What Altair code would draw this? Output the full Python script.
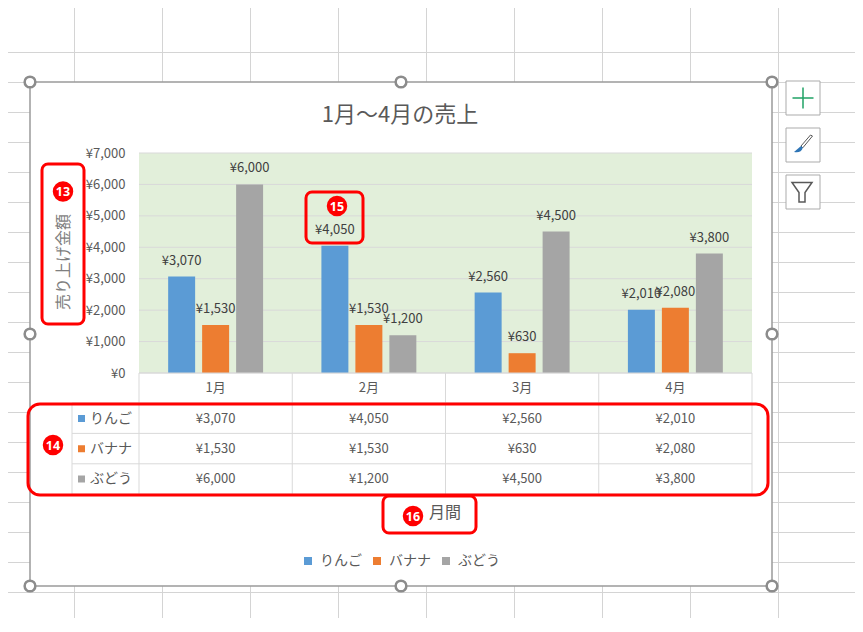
import altair as alt
import pandas as pd

# ---- data ----
months = ["1月", "2月", "3月", "4月"]
series = ["りんご", "バナナ", "ぶどう"]
apple = [3070, 4050, 2560, 2010]
banana = [1530, 1530, 630, 2080]
grape = [6000, 1200, 4500, 3800]
colors = ["#5b9bd5", "#ed7d31", "#a5a5a5"]
y_ticks = [0, 1000, 2000, 3000, 4000, 5000, 6000, 7000]

rows = []
for s, vals in zip(series, [apple, banana, grape]):
    for m, v in zip(months, vals):
        rows.append({"month": m, "series": s, "value": v})
df = pd.DataFrame(rows)

FONT = "Noto Sans CJK JP"
W, H = 613, 220
one = pd.DataFrame({"k": [0]})
YEN = "'¥' + format(datum.value, ',')"

x_scale = alt.Scale(domain=months, paddingInner=0, paddingOuter=0)
off_scale = alt.Scale(domain=series, paddingInner=0.206, paddingOuter=0.858)
y_scale = alt.Scale(domain=[0, 7000], nice=False)
color_scale = alt.Scale(domain=series, range=colors)
row_scale = alt.Scale(type="point", domain=series, range=[265.5, 326], padding=0)


def vrect(x1, x2, y1, y2, **kw):
    return alt.Chart(one).mark_rect(**kw).encode(
        x=alt.value(x1), x2=alt.value(x2), y=alt.value(y1), y2=alt.value(y2))


def hrule(x1, x2, y, color="#d9d9d9"):
    return alt.Chart(one).mark_rule(color=color, strokeWidth=1).encode(
        x=alt.value(x1), x2=alt.value(x2), y=alt.value(y))


def vrule(x, y1, y2, color="#d9d9d9"):
    return alt.Chart(one).mark_rule(color=color, strokeWidth=1).encode(
        x=alt.value(x), y=alt.value(y1), y2=alt.value(y2))


# ---- spreadsheet background grid ----
sheet_v = alt.Chart(alt.sequence(0, 9, as_="i")).transform_calculate(
    px="-64.5 + 88*datum.i").mark_rule(color="#d4d4d4", strokeWidth=1).encode(
    x=alt.X("px:Q", scale=None, axis=None), y=alt.value(-145), y2=alt.value(465))
sheet_h = alt.Chart(alt.sequence(0, 20, as_="i")).transform_calculate(
    py="-100.5 + 30*datum.i").mark_rule(color="#d4d4d4", strokeWidth=1).encode(
    y=alt.Y("py:Q", scale=None, axis=None), x=alt.value(-131), x2=alt.value(716))

# ---- chart frame & plot background ----
frame = vrect(-109, 633, -71, 433, fill="white", stroke="#9a9a9a", strokeWidth=1.5)
plot_bg = vrect(0, W, 0, H, fill="#e2efda")

ygrid = alt.Chart(pd.DataFrame({"v": y_ticks})).mark_rule(
    color="#d9d9d9", strokeWidth=1).encode(
    y=alt.Y("v:Q", scale=y_scale, axis=None), x=alt.value(0), x2=alt.value(W))

bars = alt.Chart(df).mark_bar().encode(
    x=alt.X("month:N", scale=x_scale, sort=months, axis=None),
    xOffset=alt.XOffset("series:N", scale=off_scale, sort=series),
    y=alt.Y("value:Q", scale=y_scale,
            axis=alt.Axis(values=y_ticks, labelExpr=YEN, grid=False,
                          domain=False, ticks=False, labelPadding=14,
                          labelFontSize=13, labelColor="#595959", title=None,
                          zindex=1)),
    color=alt.Color("series:N", scale=color_scale, sort=series,
                    legend=alt.Legend(orient="none", legendX=162, legendY=401,
                                      direction="horizontal", title=None,
                                      symbolType="square", symbolSize=64,
                                      symbolStrokeWidth=0, labelFontSize=14,
                                      labelColor="#595959", labelOffset=5,
                                      columnPadding=8, padding=0)),
)

bar_labels = alt.Chart(df).transform_calculate(label=YEN).mark_text(
    dy=-16, fontSize=13, color="#404040").encode(
    x=alt.X("month:N", scale=x_scale, sort=months, axis=None),
    xOffset=alt.XOffset("series:N", scale=off_scale, sort=series),
    y=alt.Y("value:Q", scale=y_scale, axis=None),
    text="label:N")

# ---- data table ----
tbl_cols = alt.Chart(pd.DataFrame({"month": months})).mark_rule(
    color="#d9d9d9", strokeWidth=1).encode(
    x=alt.X("month:N", scale=x_scale, sort=months, bandPosition=0, axis=None),
    y=alt.value(220), y2=alt.value(341))
tbl_rows = alt.Chart(alt.sequence(0, 4, as_="i")).transform_calculate(
    py="250 + 30.4*datum.i").mark_rule(color="#d9d9d9", strokeWidth=1).encode(
    y=alt.Y("py:Q", scale=None, axis=None), x=alt.value(-67), x2=alt.value(W))

month_labels = alt.Chart(pd.DataFrame({"month": months})).mark_text(
    fontSize=13, color="#595959").encode(
    x=alt.X("month:N", scale=x_scale, sort=months, axis=None),
    y=alt.value(235), text="month:N")

tbl_values = alt.Chart(df).transform_calculate(label=YEN).mark_text(
    fontSize=13, color="#595959").encode(
    x=alt.X("month:N", scale=x_scale, sort=months, axis=None),
    y=alt.Y("series:N", scale=row_scale, axis=None),
    text="label:N")
tbl_names = alt.Chart(pd.DataFrame({"series": series})).mark_text(
    align="left", fontSize=14, color="#595959").encode(
    x=alt.value(-49), y=alt.Y("series:N", scale=row_scale, axis=None),
    text="series:N")
tbl_keys = alt.Chart(pd.DataFrame({"series": series})).mark_point(
    shape="square", filled=True, size=49, opacity=1).encode(
    x=alt.value(-57.5), y=alt.Y("series:N", scale=row_scale, axis=None),
    color=alt.Color("series:N", scale=color_scale, legend=None))

# ---- titles ----
title = alt.Chart(one).mark_text(text="1月～4月の売上", fontSize=22,
                                 color="#595959").encode(
    x=alt.value(261), y=alt.value(-38))
ytitle = alt.Chart(one).mark_text(text="売り上げ金額", fontSize=16, angle=270,
                                  color="#7f7f7f").encode(
    x=alt.value(-75), y=alt.value(109))
xtitle = alt.Chart(one).mark_text(text="月間", fontSize=16,
                                  color="#595959").encode(
    x=alt.value(306), y=alt.value(360))

# ---- red annotations ----
def box(x1, x2, y1, y2, r):
    return vrect(x1, x2, y1, y2, fillOpacity=0, stroke="#ff0000",
                 strokeWidth=3, cornerRadius=r)


def badge(x, y, t):
    c = alt.Chart(one).mark_point(shape="circle", filled=True, size=420,
                                  color="#ff0000", opacity=1).encode(
        x=alt.value(x), y=alt.value(y))
    tx = alt.Chart(one).mark_text(text=t, fontSize=12.5, fontWeight="bold",
                                  color="white", font="Noto Sans").encode(
        x=alt.value(x), y=alt.value(y + 0.5))
    return [c, tx]


annos = [
    box(-97, -55, 11, 171, 6),
    box(-111, 629, 251, 342, 12),
    box(167, 224, 39, 90, 6),
    box(244, 337, 343, 380, 6),
] + badge(-76, 38.5, "13") + badge(-86, 292, "14") + badge(198, 53, "15") + badge(274, 363, "16")

# ---- selection handles & side buttons ----
handles = alt.Chart(alt.sequence(0, 9, as_="i")).transform_filter(
    "datum.i != 4").transform_calculate(
    hx="-109 + 371*(datum.i % 3)", hy="-71 + 252*floor(datum.i/3)").mark_point(
    shape="circle", size=115, filled=True, fill="white", stroke="#8c8c8c",
    strokeWidth=2.5, opacity=1).encode(
    x=alt.X("hx:Q", scale=None, axis=None), y=alt.Y("hy:Q", scale=None, axis=None))

buttons = [vrect(647, 681, -72 + 47 * k, -38 + 47 * k, fill="white",
                 stroke="#ababab", strokeWidth=1) for k in range(3)]

plus = alt.Chart(one).mark_point(shape="M-1,0L1,0M0,-1L0,1", size=441,
                                 filled=False, stroke="#21a366",
                                 strokeWidth=1.5, opacity=1).encode(
    x=alt.value(664), y=alt.value(-55))
brush_handle = alt.Chart(one).mark_point(
    shape="M0.85,-0.8L0.65,-0.9L-0.3,0.2L-0.12,0.38Z", size=400, filled=True,
    fill="white", stroke="#595959", strokeWidth=1, opacity=1).encode(
    x=alt.value(665), y=alt.value(-9))
brush_tip = alt.Chart(one).mark_point(
    shape="M-0.3,0.2L-0.12,0.38Q-0.3,0.95-1,0.8Q-0.65,0.5-0.3,0.2Z", size=400,
    filled=True, fill="#2e75b6", strokeWidth=0, opacity=1).encode(
    x=alt.value(665), y=alt.value(-9))
funnel = alt.Chart(one).mark_point(
    shape="M-1,-0.95L1,-0.95L0.3,0.05L0.3,1L-0.3,1L-0.3,0.05Z", size=400,
    filled=True, fill="white", stroke="#595959", strokeWidth=1.5,
    opacity=1).encode(x=alt.value(663), y=alt.value(39))

layers = [sheet_v, sheet_h, frame, plot_bg, ygrid, bars, bar_labels,
          tbl_cols, tbl_rows, hrule(0, W, 220), vrule(W, 220, 341),
          vrule(-67, 250, 341), month_labels, tbl_values, tbl_names, tbl_keys,
          title, ytitle, xtitle] + annos + [handles] + buttons + [
          plus, brush_handle, brush_tip, funnel]

chart = alt.layer(*layers).resolve_scale(y="independent").properties(
    width=W, height=H,
    padding={"left": 131, "top": 145, "right": 103, "bottom": 245},
    autosize=alt.AutoSizeParams(type="none"),
).configure(font=FONT).configure_view(strokeWidth=0)

chart.save("out.html", embed_options={"renderer": "svg", "actions": False})
